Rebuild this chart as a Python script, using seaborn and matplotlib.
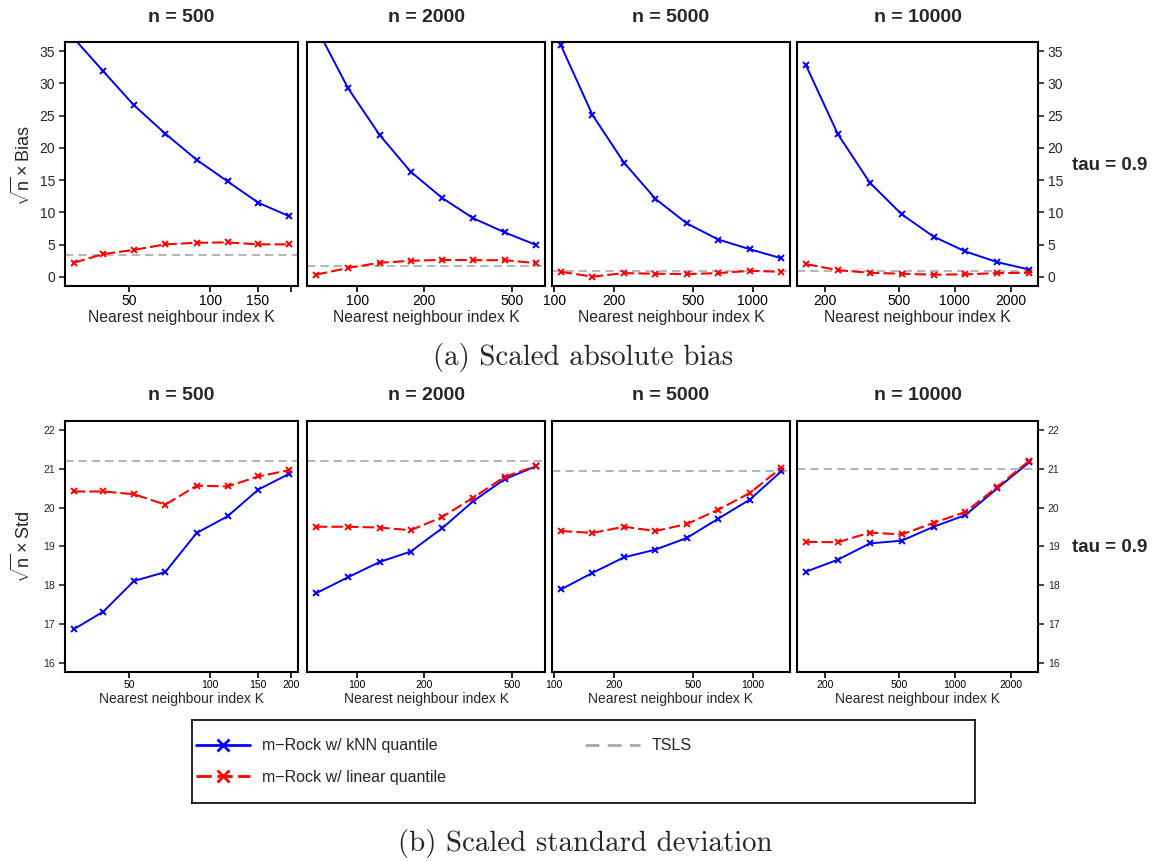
import numpy as np
import pandas as pd
import matplotlib
matplotlib.use("Agg")
import matplotlib.pyplot as plt
from matplotlib.lines import Line2D
from matplotlib.ticker import FixedLocator, FixedFormatter, NullLocator
import seaborn as sns

# ---------------- data ----------------
sample_sizes = [500, 2000, 5000, 10000]
panel_titles = ["n = 500", "n = 2000", "n = 5000", "n = 10000"]

K500 = [31, 40, 52, 68, 89, 116, 151, 197]
K2000 = [65, 91, 126, 174, 241, 333, 462, 640]
K5000 = [108, 156, 225, 324, 466, 672, 968, 1394]
K10000 = [158, 235, 349, 518, 769, 1141, 1693, 2512]

bias_knn_500 = [37.0, 31.85, 26.6, 22.2, 18.15, 14.8, 11.5, 9.4]
bias_lin_500 = [2.2, 3.55, 4.2, 5.05, 5.3, 5.35, 5.05, 5.05]
bias_knn_2000 = [38.8, 29.2, 22.0, 16.3, 12.25, 9.1, 6.9, 4.95]
bias_lin_2000 = [0.35, 1.4, 2.2, 2.5, 2.65, 2.6, 2.6, 2.15]
bias_knn_5000 = [35.9, 25.1, 17.7, 12.1, 8.3, 5.8, 4.3, 2.9]
bias_lin_5000 = [0.8, 0.05, 0.6, 0.5, 0.45, 0.6, 0.95, 0.8]
bias_knn_10000 = [32.8, 22.1, 14.6, 9.7, 6.25, 3.95, 2.3, 1.15]
bias_lin_10000 = [2.0, 1.05, 0.65, 0.5, 0.35, 0.4, 0.6, 0.65]
bias_tsls = [3.4, 1.7, 0.9, 0.9]

std_knn_500 = [16.86, 17.32, 18.11, 18.34, 19.35, 19.78, 20.47, 20.88]
std_lin_500 = [20.42, 20.42, 20.35, 20.08, 20.57, 20.55, 20.81, 20.97]
std_knn_2000 = [17.79, 18.21, 18.60, 18.87, 19.47, 20.17, 20.74, 21.07]
std_lin_2000 = [19.51, 19.51, 19.49, 19.42, 19.76, 20.26, 20.80, 21.08]
std_knn_5000 = [17.89, 18.32, 18.72, 18.92, 19.22, 19.72, 20.21, 20.94]
std_lin_5000 = [19.40, 19.35, 19.51, 19.40, 19.58, 19.95, 20.38, 21.03]
std_knn_10000 = [18.35, 18.66, 19.08, 19.15, 19.51, 19.81, 20.50, 21.17]
std_lin_10000 = [19.12, 19.11, 19.36, 19.31, 19.61, 19.89, 20.54, 21.21]
std_tsls = [21.21, 21.21, 20.94, 21.01]

x_ticks = [[50, 100, 150, 200], [100, 200, 500], [100, 200, 500, 1000], [200, 500, 1000, 2000]]
x_ticklabels_top = [["50", "100", "150", ""], ["100", "200", "500"],
                    ["100", "200", "500", "1000"], ["200", "500", "1000", "2000"]]
x_ticklabels_bottom = [["50", "100", "150", "200"], ["100", "200", "500"],
                       ["100", "200", "500", "1000"], ["200", "500", "1000", "2000"]]
bias_yticks = [0, 5, 10, 15, 20, 25, 30, 35]
std_yticks = [16, 17, 18, 19, 20, 21, 22]

series_labels = ["m\u2212Rock w/ kNN quantile", "m\u2212Rock w/ linear quantile", "TSLS"]

K_all = [K500, K2000, K5000, K10000]
bias_knn = [bias_knn_500, bias_knn_2000, bias_knn_5000, bias_knn_10000]
bias_lin = [bias_lin_500, bias_lin_2000, bias_lin_5000, bias_lin_10000]
std_knn = [std_knn_500, std_knn_2000, std_knn_5000, std_knn_10000]
std_lin = [std_lin_500, std_lin_2000, std_lin_5000, std_lin_10000]

# ---------------- style ----------------
sns.set_theme(style="white")
plt.rcParams["font.family"] = ["Liberation Sans", "DejaVu Sans"]
plt.rcParams["mathtext.fontset"] = "custom"
plt.rcParams["mathtext.rm"] = "Liberation Sans"
plt.rcParams["mathtext.it"] = "Liberation Sans:italic"
plt.rcParams["axes.edgecolor"] = "black"
plt.rcParams["axes.linewidth"] = 1.5

BLUE = "#0000FF"
RED = "#FF0000"
GRAY = "#A9A9A9"
RED_DASH = (0, (5.5, 2))
GRAY_DASH = (0, (5, 3))

W, H = 1157, 861
fig = plt.figure(figsize=(W / 100, H / 100), dpi=100)
fig.patch.set_facecolor("white")

lefts = [65, 307, 552, 797]
widths = [233, 238, 238, 241]


def add_axes_px(x0, y0, w, h):
    return fig.add_axes([x0 / W, 1 - (y0 + h) / H, w / W, h / H])


def draw_row(y_top, height, knn, lin, tsls, ylim, yticks, ticklabels, tick_fs, xlab_fs, title_y):
    axes = []
    for i in range(4):
        ax = add_axes_px(lefts[i], y_top, widths[i], height)
        ax.set_xscale("log")
        ax.set_facecolor("white")
        df = pd.DataFrame({"K": K_all[i], "knn": knn[i], "lin": lin[i]})
        ax.axhline(tsls[i], color=GRAY, linewidth=1.2, linestyle=GRAY_DASH, zorder=1)
        sns.lineplot(data=df, x="K", y="knn", ax=ax, color=BLUE, linewidth=1.4,
                     marker="x", markersize=4.5, markeredgewidth=1.4,
                     markeredgecolor=BLUE, sort=False, estimator=None)
        sns.lineplot(data=df, x="K", y="lin", ax=ax, color=RED, linewidth=1.5,
                     linestyle=RED_DASH, marker="x", markersize=4.5, markeredgewidth=1.4,
                     markeredgecolor=RED, sort=False, estimator=None)
        ax.margins(x=0.04)
        ax.set_ylim(*ylim)
        ax.xaxis.set_major_locator(FixedLocator(x_ticks[i]))
        ax.xaxis.set_major_formatter(FixedFormatter(ticklabels[i]))
        ax.xaxis.set_minor_locator(NullLocator())
        ax.tick_params(axis="x", which="major", direction="out", length=4, width=1.2,
                       labelsize=tick_fs, pad=2, bottom=True, colors="black")
        ax.set_xlabel("Nearest neighbour index K", fontsize=xlab_fs, labelpad=1)
        ax.set_ylabel("")
        ax.yaxis.set_major_locator(FixedLocator(yticks))
        if i == 0:
            ax.tick_params(axis="y", direction="out", length=4, width=1.2,
                           labelsize=tick_fs, pad=3, left=True)
        elif i == 3:
            ax.yaxis.tick_right()
            ax.tick_params(axis="y", direction="out", length=4, width=1.2,
                           labelsize=tick_fs, pad=3, right=True)
        else:
            ax.tick_params(axis="y", left=False, right=False, labelleft=False, labelright=False)
        for s in ax.spines.values():
            s.set_visible(True)
            s.set_color("black")
            s.set_linewidth(1.5)
        ax.grid(False)
        fig.text((lefts[i] + widths[i] / 2) / W, 1 - title_y / H, panel_titles[i],
                 ha="center", va="center", fontsize=14, fontweight="bold")
        axes.append(ax)
    return axes


top_axes = draw_row(42, 244, bias_knn, bias_lin, bias_tsls, (-1.4, 36.4), bias_yticks,
                    x_ticklabels_top, 10, 11.3, 17)
bot_axes = draw_row(421, 251, std_knn, std_lin, std_tsls, (15.76, 22.24), std_yticks,
                    x_ticklabels_bottom, 7.5, 10, 396)

# y labels and tau labels
fig.text(22 / W, 1 - 166 / H, r"$\sqrt{\mathrm{n}}\times$Bias", rotation=90,
         ha="center", va="center", fontsize=13)
fig.text(22 / W, 1 - 547 / H, r"$\sqrt{\mathrm{n}}\times$Std", rotation=90,
         ha="center", va="center", fontsize=13)
fig.text(1110 / W, 1 - 165 / H, "tau = 0.9", ha="center", va="center",
         fontsize=13.5, fontweight="bold")
fig.text(1110 / W, 1 - 547 / H, "tau = 0.9", ha="center", va="center",
         fontsize=13.5, fontweight="bold")

# captions
fig.text(583 / W, 1 - 358 / H, "(a) Scaled absolute bias", ha="center", va="center",
         fontsize=20.8, family="cmr10")
fig.text(585 / W, 1 - 843 / H, "(b) Scaled standard deviation", ha="center", va="center",
         fontsize=20.8, family="cmr10")

# legend box
leg_ax = add_axes_px(192, 720, 783, 83)
leg_ax.set_xticks([])
leg_ax.set_yticks([])
leg_ax.set_facecolor("white")
for s in leg_ax.spines.values():
    s.set_visible(True)
    s.set_color("black")
    s.set_linewidth(1.2)

handles = [
    Line2D([], [], color=BLUE, linewidth=2, marker="x", markersize=8, markeredgewidth=2),
    Line2D([], [], color=RED, linewidth=2, linestyle=RED_DASH, marker="x", markersize=8,
           markeredgewidth=2),
    Line2D([], [], color=GRAY, linewidth=2, linestyle=GRAY_DASH),
]
leg_ax.legend(handles, series_labels, loc="upper left", bbox_to_anchor=(0.0, 0.83),
              ncol=2, frameon=False, fontsize=11.5, handlelength=3.4, handletextpad=0.75,
              columnspacing=8.7, labelspacing=1.05, borderpad=0.25, borderaxespad=0.0,
              numpoints=1)

fig.savefig("out.png", dpi=100, facecolor="white")
